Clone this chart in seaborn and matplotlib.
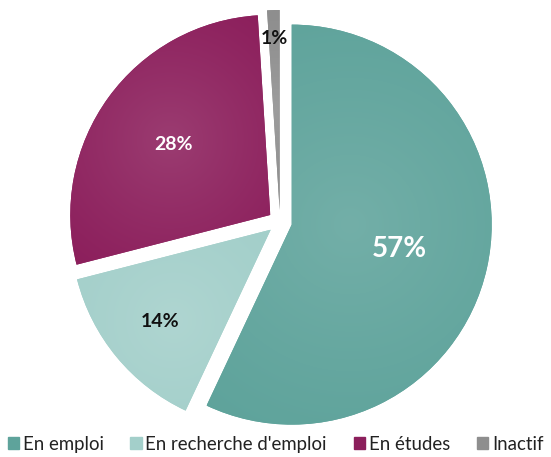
import numpy as np
import matplotlib
matplotlib.use("Agg")
import matplotlib.pyplot as plt
import matplotlib.colors as mcolors
import seaborn as sns

categories = ["En emploi", "En recherche d'emploi", "En études", "Inactif"]
values = [57, 14, 28, 1]
labels = ["57%", "14%", "28%", "1%"]

colors = ["#5ea39b", "#a3cfca", "#8c1f5c", "#8e8e8e"]
text_colors = ["white", "#111111", "white", "#111111"]
label_sizes = [20, 14, 14, 14]
label_r = [0.55, 0.72, 0.6, 0.86]

sns.set_theme(style="white")
plt.rcParams["font.family"] = ["Lato", "DejaVu Sans"]

fig = plt.figure(figsize=(5.51, 4.57), dpi=100)
ax = fig.add_axes([0, 0, 1, 1])

explode = [0.06] * len(values)
wedges, _ = ax.pie(values, colors=colors, startangle=90, counterclock=False,
                   explode=explode, radius=1.0,
                   wedgeprops=dict(linewidth=0))

# radial gradient shading per wedge
for w, c in zip(wedges, colors):
    ext = w.get_path().get_extents()
    x0, y0, x1, y1 = ext.x0, ext.y0, ext.x1, ext.y1
    n = 200
    xs = np.linspace(x0, x1, n)
    ys = np.linspace(y0, y1, n)
    X, Y = np.meshgrid(xs, ys)
    cx, cy = (x0 + x1) / 2, (y0 + y1) / 2
    R = np.hypot(x1 - x0, y1 - y0) / 2
    d = np.clip(np.hypot(X - cx, Y - cy) / R, 0, 1)
    base = np.array(mcolors.to_rgb(c))
    f = 0.13 * (1 - d) ** 1.2
    img = base[None, None, :] * (1 - f[..., None]) + f[..., None]
    im = ax.imshow(img, extent=(x0, x1, y0, y1), origin="lower",
                   interpolation="bilinear", zorder=2, aspect="auto")
    im.set_clip_path(w)

# labels
for w, lab, tc, fs, r, e in zip(wedges, labels, text_colors, label_sizes, label_r, explode):
    ang = np.deg2rad((w.theta1 + w.theta2) / 2)
    x = (r + e) * np.cos(ang)
    y = (r + e) * np.sin(ang)
    ax.text(x, y, lab, ha="center", va="center", color=tc, fontsize=fs,
            fontweight="bold", zorder=5)

ax.set_xlim(-1.4, 1.355)
ax.set_ylim(-1.175, 1.11)
ax.set_aspect("auto")
ax.axis("off")

handles = [plt.Rectangle((0, 0), 1, 1, color=c) for c in colors]
leg = fig.legend(handles, categories, loc="lower center", bbox_to_anchor=(0.5, -0.027),
                 ncol=4, frameon=False, fontsize=13.4, handlelength=0.6,
                 handleheight=0.6, handletextpad=0.2, columnspacing=1.45)
for t in leg.get_texts():
    t.set_color("#222222")

fig.savefig("out.png", dpi=100)
